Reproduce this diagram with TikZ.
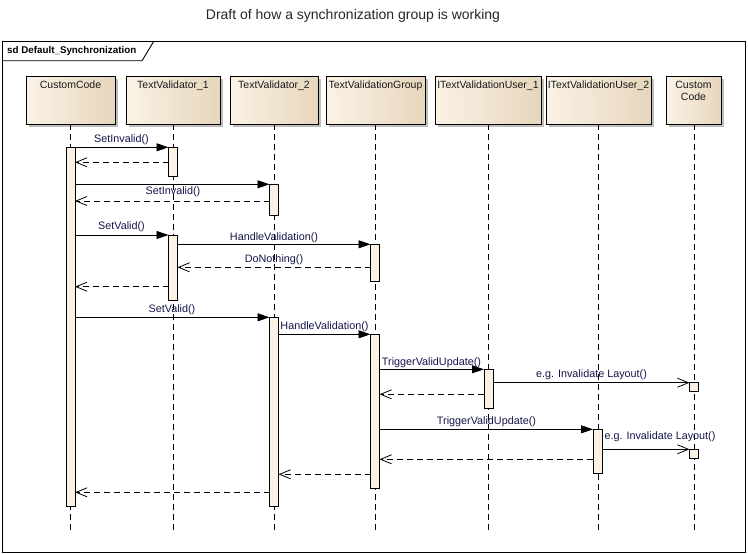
\documentclass[tikz,border=0pt]{standalone}
\usepackage{fontspec}
\setmainfont{Liberation Sans}
\usetikzlibrary{arrows.meta,shadows}
\definecolor{boxL}{RGB}{251,242,230}
\definecolor{boxR}{RGB}{230,214,188}
\definecolor{actfill}{RGB}{251,241,228}
\definecolor{lbl}{RGB}{20,20,75}
\definecolor{shade}{RGB}{190,190,190}
\tikzset{
  lifebox/.style={draw=black, line width=0.9pt, minimum height=48pt, inner sep=0pt,
    left color=boxL, right color=boxR, font=\fontsize{10.5}{12}\selectfont,
    drop shadow={shadow xshift=3pt, shadow yshift=-3pt, fill=shade, opacity=1}},
  boxtext/.style={font=\fontsize{10.5}{12.5}\selectfont, align=center, anchor=north, inner sep=0pt, text=black!90},
  lifeline/.style={draw=black, line width=0.8pt, dash pattern=on 6pt off 4pt},
  act/.style={draw=black, line width=0.9pt, fill=actfill},
  call/.style={draw=black, line width=0.8pt, -{Triangle[length=12pt,width=8pt]}},
  ret/.style={draw=black, line width=0.8pt, dash pattern=on 6pt off 4pt, -{Straight Barb[length=11pt,width=9pt]}},
  async/.style={draw=black, line width=0.8pt, -{Straight Barb[length=11pt,width=9pt]}},
  msg/.style={font=\fontsize{10.8}{12}\selectfont, text=lbl, inner sep=0pt}
}
\begin{document}
\begin{tikzpicture}[x=1pt,y=-1pt]
\useasboundingbox (0,0) rectangle (748,554);
% title
\node[font=\fontsize{14}{16}\selectfont, text=black!85] (title) at (353,16) {Draft of how a synchronization group is working};
% frame
\draw[line width=0.9pt] (2,41) rectangle (745,552);
\draw[line width=0.9pt] (2,60.7) -- (142,60.7) -- (154,41);
\node[font=\bfseries\fontsize{9.8}{12}\selectfont, anchor=west, inner sep=0pt] (sdlabel) at (7,50.7) {sd Default\_Synchronization};

% lifeline boxes
\node[lifebox, minimum width=89pt] (bcc) at (70.5,100) {};
\node[lifebox, minimum width=94pt] (btv1) at (173,100) {};
\node[lifebox, minimum width=88pt] (btv2) at (274,100) {};
\node[lifebox, minimum width=99pt] (btvg) at (375.5,100) {};
\node[lifebox, minimum width=106pt] (bu1) at (488,100) {};
\node[lifebox, minimum width=105pt] (bu2) at (598.5,100) {};
\node[lifebox, minimum width=55pt] (bcc2) at (693.5,100) {};
\node[boxtext] (tcc) at (70.5,80.5) {CustomCode};
\node[boxtext] (ttv1) at (173,80.5) {TextValidator\_1};
\node[boxtext] (ttv2) at (274,80.5) {TextValidator\_2};
\node[boxtext] (ttvg) at (375.5,80.5) {TextValidationGroup};
\node[boxtext] (tu1) at (488,80.5) {ITextValidationUser\_1};
\node[boxtext] (tu2) at (598.5,80.5) {ITextValidationUser\_2};
\node[boxtext] (tcc2) at (693.5,80.5) {Custom\\Code};

% lifelines
\coordinate (ecc) at (70.5,530);
\coordinate (etv1) at (173,530);
\coordinate (etv2) at (274,530);
\coordinate (etvg) at (375,530);
\coordinate (eu1) at (488.5,530);
\coordinate (eu2) at (598.5,530);
\coordinate (ecc2) at (694,530);
\draw[lifeline] (70.5,124) -- (ecc);
\draw[lifeline] (173,124) -- (etv1);
\draw[lifeline] (274,124) -- (etv2);
\draw[lifeline] (375,124) -- (etvg);
\draw[lifeline] (488.5,124) -- (eu1);
\draw[lifeline] (598.5,124) -- (eu2);
\draw[lifeline] (694,124) -- (ecc2);

% activations
\path[act] (66,147.3) rectangle (75,506);
\path[act] (168.5,147.3) rectangle (177.5,176.3);
\path[act] (269.5,184.3) rectangle (278.5,215.3);
\path[act] (168.5,235) rectangle (177.5,300);
\path[act] (370.5,244.3) rectangle (379.5,281.7);
\path[act] (269.5,317.3) rectangle (278.5,506);
\path[act] (370.5,334.3) rectangle (379.5,488.5);
\path[act] (484,369.3) rectangle (493,408.3);
\path[act] (689.5,382.7) rectangle (698.5,391.3);
\path[act] (593,429.3) rectangle (602,473.3);
\path[act] (689.5,449.3) rectangle (698.5,458.3);

% named message endpoints
\coordinate (m1a) at (75,147.3);   \coordinate (m1b) at (168.5,147.3);
\coordinate (m2a) at (168.5,162.3); \coordinate (m2b) at (75,162.3);
\coordinate (m3a) at (75,184.3);   \coordinate (m3b) at (269.5,184.3);
\coordinate (m4a) at (269.5,201);  \coordinate (m4b) at (75,201);
\coordinate (m5a) at (75,235);     \coordinate (m5b) at (168.5,235);
\coordinate (m6a) at (177.5,244.3); \coordinate (m6b) at (370.5,244.3);
\coordinate (m7a) at (370.5,267.3); \coordinate (m7b) at (177.5,267.3);
\coordinate (m8a) at (168.5,286.7); \coordinate (m8b) at (75,286.7);
\coordinate (m9a) at (75,317.3);   \coordinate (m9b) at (269.5,317.3);
\coordinate (m10a) at (278.5,334.3); \coordinate (m10b) at (370.5,334.3);
\coordinate (m11a) at (379.5,369.3); \coordinate (m11b) at (484,369.3);
\coordinate (m12a) at (493,382.7); \coordinate (m12b) at (689.5,382.7);
\coordinate (m13a) at (484,394.3); \coordinate (m13b) at (379.5,394.3);
\coordinate (m14a) at (379.5,429.3); \coordinate (m14b) at (593,429.3);
\coordinate (m15a) at (602,449.3); \coordinate (m15b) at (689.5,449.3);
\coordinate (m16a) at (593,459.3); \coordinate (m16b) at (379.5,459.3);
\coordinate (m17a) at (370.5,474.3); \coordinate (m17b) at (278.5,474.3);
\coordinate (m18a) at (269.5,492.3); \coordinate (m18b) at (75,492.3);

\draw[call] (m1a) -- (m1b);
\draw[ret] (m2a) -- (m2b);
\draw[call] (m3a) -- (m3b);
\draw[ret] (m4a) -- (m4b);
\draw[call] (m5a) -- (m5b);
\draw[call] (m6a) -- (m6b);
\draw[ret] (m7a) -- (m7b);
\draw[ret] (m8a) -- (m8b);
\draw[call] (m9a) -- (m9b);
\draw[call] (m10a) -- (m10b);
\draw[call] (m11a) -- (m11b);
\draw[async] (m12a) -- (m12b);
\draw[ret] (m13a) -- (m13b);
\draw[call] (m14a) -- (m14b);
\draw[async] (m15a) -- (m15b);
\draw[ret] (m16a) -- (m16b);
\draw[ret] (m17a) -- (m17b);
\draw[ret] (m18a) -- (m18b);

% labels
\node[msg] (l1) at (121.5,140) {SetInvalid()};
\node[msg] (l3) at (173,191.5) {SetInvalid()};
\node[msg] (l5) at (121.5,227) {SetValid()};
\node[msg] (l6) at (274,237.3) {HandleValidation()};
\node[msg] (l7) at (274,260) {DoNothing()};
\node[msg] (l9) at (172,310) {SetValid()};
\node[msg] (l10) at (324.5,326.7) {HandleValidation()};
\node[msg] (l11) at (431.5,362.3) {TriggerValidUpdate()};
\node[msg] (l12) at (591.5,374.7) {e.g. Invalidate Layout()};
\node[msg] (l14) at (486.5,421.7) {TriggerValidUpdate()};
\node[msg] (l15) at (660,436.7) {e.g. Invalidate Layout()};
\end{tikzpicture}
\end{document}
